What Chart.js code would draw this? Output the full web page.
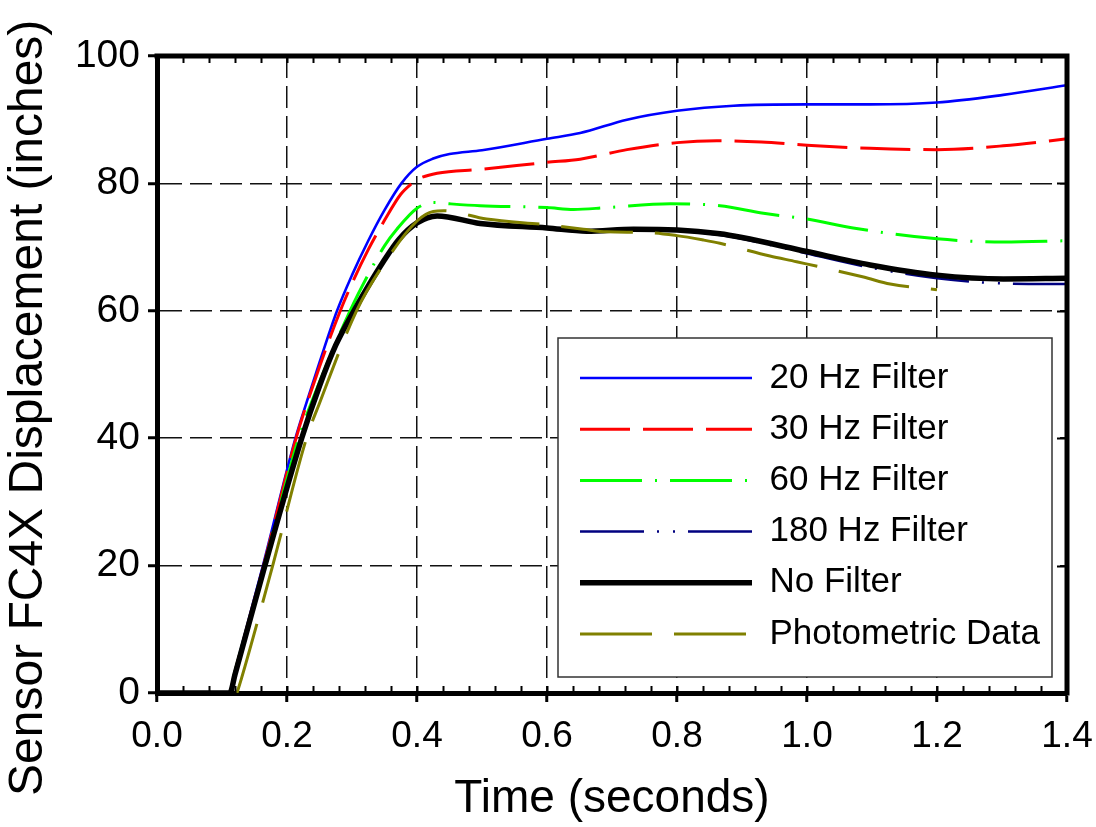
<!DOCTYPE html>
<html>
<head>
<meta charset="utf-8">
<script src="https://cdn.jsdelivr.net/npm/chart.js@4.4.1/dist/chart.umd.min.js"></script>
<style>html,body{margin:0;padding:0;background:#fff;}canvas{display:block;}</style>
</head>
<body>
<canvas id="c" width="1096" height="827"></canvas>
<script>
// ---- data (time in s, displacement in inches) ----
const t20 = [0, 0.111, 0.12, 0.163, 0.213, 0.23, 0.25, 0.277, 0.3, 0.325, 0.35, 0.376, 0.4, 0.425, 0.45, 0.5, 0.6, 0.651, 0.723, 0.8, 0.887, 1.0, 1.097, 1.2, 1.302, 1.4];
const v20 = [0, 0, 3.4, 20, 40, 45.6, 51.9, 60, 65.6, 71.0, 75.8, 80, 82.6, 83.9, 84.6, 85.2, 87.0, 87.9, 90.0, 91.4, 92.2, 92.4, 92.4, 92.7, 93.9, 95.4];

const t30 = [0, 0.111, 0.12, 0.164, 0.214, 0.25, 0.282, 0.3, 0.325, 0.35, 0.375, 0.392, 0.4, 0.431, 0.497, 0.6, 0.651, 0.723, 0.8, 0.861, 0.93, 1.0, 1.097, 1.2, 1.302, 1.4];
const v30 = [0, 0, 3.4, 20, 40, 51.2, 60, 64.3, 69.6, 74.2, 78.3, 80, 80.6, 81.6, 82.2, 83.3, 83.8, 85.3, 86.4, 86.7, 86.5, 86.0, 85.5, 85.3, 85.9, 87.0];

const t60 = [0, 0.111, 0.12, 0.165, 0.218, 0.25, 0.297, 0.325, 0.35, 0.369, 0.4, 0.425, 0.45, 0.497, 0.6, 0.641, 0.692, 0.79, 0.866, 0.933, 1.0, 1.071, 1.2, 1.302, 1.4];
const v60 = [0, 0, 3.4, 20, 40, 48.8, 60, 65.7, 70.2, 72.8, 76.1, 77.0, 76.8, 76.5, 76.2, 75.9, 76.2, 76.8, 76.5, 75.3, 74.4, 73.0, 71.3, 70.8, 71.0];

const t180 = [0, 0.112, 0.12, 0.166, 0.222, 0.25, 0.275, 0.303, 0.35, 0.372, 0.4, 0.431, 0.497, 0.6, 0.661, 0.733, 0.8, 0.866, 0.9, 1.0, 1.097, 1.2, 1.302, 1.4];
const v180 = [0, 0, 2.9, 20, 40, 48.3, 54.7, 60.1, 68.1, 71.3, 73.8, 74.8, 73.6, 72.9, 72.4, 72.7, 72.6, 71.9, 71.3, 69.0, 66.8, 65.1, 64.3, 64.2];

const tNo = [0, 0.112, 0.12, 0.166, 0.2226, 0.25, 0.275, 0.303, 0.35, 0.372, 0.4, 0.431, 0.497, 0.6, 0.661, 0.733, 0.8, 0.866, 0.9, 1.0, 1.097, 1.2, 1.302, 1.4];
const vNo = [0, 0, 2.9, 20, 40, 48.2, 54.6, 60, 68, 71.2, 73.8, 74.9, 73.7, 73.0, 72.5, 72.8, 72.7, 72.1, 71.5, 69.3, 67.2, 65.6, 65.0, 65.1];

const tPh = [0.123, 0.13, 0.178, 0.230, 0.25, 0.307, 0.35, 0.4, 0.425, 0.441, 0.507, 0.6, 0.656, 0.692, 0.753, 0.8, 0.841, 0.866, 0.943, 0.984, 1.087, 1.128, 1.2];
const vPh = [0, 2.3, 20, 40, 45.5, 60, 67.5, 74.1, 75.6, 75.7, 74.4, 73.5, 72.8, 72.4, 72.3, 71.8, 71.1, 70.6, 68.6, 67.7, 65.3, 64.2, 63.3];

const seriesNames = ['20 Hz Filter', '30 Hz Filter', '60 Hz Filter', '180 Hz Filter', 'No Filter', 'Photometric Data'];
const xTicks = [0, 0.2, 0.4, 0.6, 0.8, 1.0, 1.2, 1.4];
const yTicks = [0, 20, 40, 60, 80, 100];

const FONT = "'Liberation Sans', Arial, Helvetica, sans-serif";
const pts = (t, v) => t.map((x, i) => ({x: x, y: v[i]}));

function ds(label, t, v, color, width, dash) {
  return {
    label: label, data: pts(t, v), borderColor: color, backgroundColor: color,
    borderWidth: width, borderDash: dash, pointRadius: 0, fill: false,
    cubicInterpolationMode: 'monotone'
  };
}

// index 0 is drawn on top; legend is reversed to list 20 Hz first
const datasets = [
  ds(seriesNames[5], tPh, vPh, '#808000', 3, [72, 22]),
  ds(seriesNames[4], tNo, vNo, '#000000', 5.5, []),
  ds(seriesNames[3], t180, v180, '#000080', 2.5, [64, 13, 2, 14, 2, 13]),
  ds(seriesNames[2], t60, v60, '#00FF00', 3, [62, 13, 2, 13]),
  ds(seriesNames[1], t30, v30, '#FF0000', 3, [50, 13]),
  ds(seriesNames[0], t20, v20, '#0000FF', 2.6, [])
];

const LEG = {x1: 558, y1: 338, x2: 1052, y2: 677, lineX: 580, firstRowTop: 360.5, pad: 16.2};

const framePlugin = {
  id: 'framePlugin',
  afterLayout(chart) {
    const lg = chart.legend;
    if (!lg) return;
    lg.left = LEG.lineX - LEG.pad;
    lg.top = LEG.firstRowTop - LEG.pad;
    lg.right = LEG.x2;
    lg.bottom = LEG.y2;
    lg.width = lg.right - lg.left;
    lg.height = lg.bottom - lg.top;
    if (!lg.__wrapped) {
      const orig = lg.draw;
      lg.draw = function (area) {
        const ctx = chart.ctx;
        ctx.save();
        ctx.fillStyle = '#ffffff';
        ctx.fillRect(LEG.x1, LEG.y1, LEG.x2 - LEG.x1, LEG.y2 - LEG.y1);
        ctx.strokeStyle = '#333333';
        ctx.lineWidth = 1.5;
        ctx.strokeRect(LEG.x1, LEG.y1, LEG.x2 - LEG.x1, LEG.y2 - LEG.y1);
        ctx.restore();
        orig.call(this, area);
      };
      lg.__wrapped = true;
    }
  },
  afterDatasetsDraw(chart) {
    const ctx = chart.ctx, a = chart.chartArea;
    const xs = chart.scales.x, ys = chart.scales.y;
    ctx.save();
    ctx.strokeStyle = '#000';
    ctx.lineWidth = 2;
    ctx.beginPath();
    for (let k = 0; k <= 35; k++) {
      const px = Math.round(xs.getPixelForValue(k * 0.04)) + 0.5;
      ctx.moveTo(px, a.top); ctx.lineTo(px, a.top + 7);
      ctx.moveTo(px, a.bottom); ctx.lineTo(px, a.bottom - 7);
    }
    yTicks.forEach(v => {
      const py = Math.round(ys.getPixelForValue(v)) + 0.5;
      ctx.moveTo(a.right, py); ctx.lineTo(a.right - 10, py);
    });
    ctx.stroke();
    ctx.lineWidth = 5;
    ctx.beginPath();
    ctx.moveTo(a.left - 2.5, a.top); ctx.lineTo(a.right + 2.5, a.top);
    ctx.moveTo(a.right, a.top); ctx.lineTo(a.right, a.bottom + 2.5);
    ctx.stroke();
    ctx.restore();
  }
};

new Chart(document.getElementById('c'), {
  type: 'line',
  data: {datasets: datasets},
  plugins: [framePlugin],
  options: {
    responsive: false,
    animation: false,
    devicePixelRatio: 1,
    layout: {padding: {left: 0, right: 29, top: 56, bottom: 0}},
    plugins: {
      tooltip: {enabled: false},
      legend: {
        position: 'chartArea',
        align: 'start',
        reverse: true,
        labels: {
          usePointStyle: true, pointStyle: 'line', pointStyleWidth: 172,
          padding: LEG.pad, color: '#000', font: {family: FONT, size: 35},
          generateLabels(chart) {
            const items = Chart.defaults.plugins.legend.labels.generateLabels(chart);
            items.forEach(it => {
              const d = chart.data.datasets[it.datasetIndex];
              it.lineDash = d.borderDash;
              it.lineWidth = d.borderWidth;
              it.strokeStyle = d.borderColor;
              it.fillStyle = d.borderColor;
              it.pointStyle = 'line';
            });
            return items;
          }
        }
      }
    },
    scales: {
      x: {
        type: 'linear', min: 0, max: 1.4,
        afterFit(s) { s.height = 134; s.paddingLeft = 0; s.paddingRight = 0; },
        afterBuildTicks(s) { s.ticks = xTicks.map(v => ({value: v})); },
        ticks: {color: '#000', font: {family: FONT, size: 37}, padding: 13, maxRotation: 0, autoSkip: false,
                callback: v => Number(v).toFixed(1)},
        grid: {color: '#111', lineWidth: 1.5, tickLength: 9, tickColor: '#000', tickWidth: 3},
        border: {display: true, color: '#000', width: 5, dash: [22, 8]},
        title: {display: true, text: 'Time (seconds)', color: '#000', font: {family: FONT, size: 46}, padding: 0}
      },
      y: {
        type: 'linear', min: 0, max: 100,
        afterFit(s) { s.width = 157; s.paddingTop = 0; s.paddingBottom = 0; },
        afterBuildTicks(s) { s.ticks = yTicks.map(v => ({value: v})); },
        ticks: {color: '#000', font: {family: FONT, size: 39}, padding: 8, callback: v => String(v)},
        grid: {color: '#111', lineWidth: 1.5, tickLength: 9, tickColor: '#000', tickWidth: 3},
        border: {display: true, color: '#000', width: 5, dash: [22, 8]},
        title: {display: true, text: 'Sensor FC4X Displacement (inches)     ', color: '#000', font: {family: FONT, size: 48}, padding: 0}
      }
    }
  }
});
</script>
</body>
</html>
